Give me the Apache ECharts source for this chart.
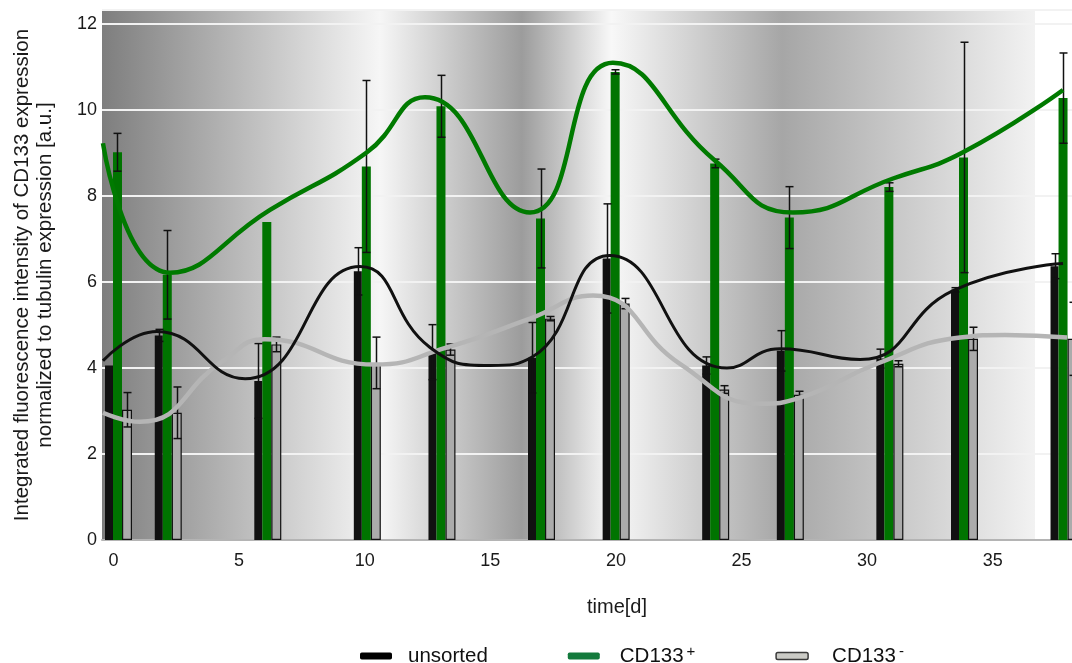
<!DOCTYPE html>
<html>
<head>
<meta charset="utf-8">
<script src="https://cdn.jsdelivr.net/npm/echarts@6/dist/echarts.min.js"></script>
<style>
html,body{margin:0;padding:0;background:#fff;}
#chart{width:1072px;height:663px;}
</style>
</head>
<body>
<div id="chart"></div>
<script>
// ---- data ----
const days = [0, 2, 6, 10, 13, 17, 20, 24, 27, 31, 34, 38];
const unsorted    = [4.06, 4.76, 3.70, 6.25, 4.37, 4.24, 6.55, 4.06, 4.40, 4.22, 5.82, 6.37];
const unsortedErr = [0, 0.14, 0.87, 0.55, 0.64, 0.82, 1.27, 0.20, 0.47, 0.22, 0.05, 0.29];
const cdPos       = [9.02, 6.17, 7.40, 8.69, 10.09, 7.48, 10.89, 8.76, 7.50, 8.21, 8.90, 10.28];
const cdPosErr    = [0.44, 1.03, 0, 2.00, 0.72, 1.15, 0.05, 0.10, 0.72, 0.10, 2.68, 1.05];
const cdNeg       = [3.03, 2.96, 4.55, 4.12, 4.43, 5.15, 5.50, 3.50, 3.38, 4.10, 4.68, 4.68];
const cdNegErr    = [0.40, 0.60, 0.17, 0.60, 0.13, 0.05, 0.12, 0.09, 0.08, 0.07, 0.27, 0.85];

// smoothed trend curves (time [d], value)
const unsortedCurve = [[-0.42,4.17],[1.73,4.85],[5.24,3.75],[9.81,6.36],[12.6,4.48],[14.99,4.06],[16.7,4.27],[19.76,6.62],[24.42,4.0],[26.53,4.45],[29.72,4.2],[33.42,5.8],[37.8,6.43]];
const cdPosCurve = [[-0.42,9.23],[2.25,6.22],[6.23,7.68],[10.09,9.02],[12.4,10.3],[16.58,7.62],[19.88,11.1],[23.94,8.83],[27.05,7.62],[31.03,8.41],[33.82,9.02],[37.8,10.47]];
const cdNegCurve = [[-0.42,2.96],[1.05,2.75],[4.36,4.17],[6.03,4.67],[10.41,4.08],[13.28,4.48],[16.58,5.15],[19.09,5.69],[22.55,4.1],[25.74,3.17],[27.33,3.31],[30.39,4.1],[33.7,4.71],[35.5,4.77],[37.96,4.71]];

const xTicks = [0, 5, 10, 15, 20, 25, 30, 35];
const seriesNames = ['unsorted', 'CD133+', 'CD133-'];
const yTitle = 'Integrated fluorescence intensity of CD133 expression\nnormalized to tubulin expression [a.u.]';
const xTitle = 'time[d]';

// ---- styling / layout ----
const barWidths = [8, 9, 10];
const total = barWidths.reduce((a, b) => a + b, 0);
const offsets = [];
{ let acc = -total / 2; for (const w of barWidths) { offsets.push(acc + w / 2); acc += w; } }

function errSeries(vals, errs, off) {
  return {
    type: 'custom', xAxisIndex: 1, z: 3,
    data: days.map((d, i) => [d, vals[i], errs[i]]),
    encode: { x: 0, y: 1 },
    renderItem: function (params, api) {
      const x = api.value(0), v = api.value(1), e = api.value(2);
      if (!e) return null;
      const c = api.coord([x, v]);
      const hi = api.coord([x, v + e])[1];
      const lo = api.coord([x, v - e])[1];
      const cx = Math.round(c[0] + off) + 0.5;
      const hw = 4;
      const st = { stroke: '#111', lineWidth: 1.5 };
      return { type: 'group', children: [
        { type: 'line', shape: { x1: cx, y1: hi, x2: cx, y2: lo }, style: st },
        { type: 'line', shape: { x1: cx - hw, y1: hi, x2: cx + hw, y2: hi }, style: st },
        { type: 'line', shape: { x1: cx - hw, y1: lo, x2: cx + hw, y2: lo }, style: st }
      ]};
    }
  };
}

const chart = echarts.init(document.getElementById('chart'));
const font = 'Liberation Sans, Arial, sans-serif';
const legendRich = { n: { fontSize: 20.5, color: '#111' }, s: { fontSize: 15, color: '#111', padding: [0, 0, 9, 3] } };
const option = {
  animation: false,
  backgroundColor: '#ffffff',
  textStyle: { fontFamily: font },
  grid: { left: 102, right: 0, top: 10, bottom: 123 },
  graphic: [{
    type: 'rect', z: -10, silent: true,
    shape: { x: 102, y: 10, width: 933, height: 530 },
    style: { fill: { type: 'linear', x: 0, y: 0, x2: 1, y2: 0, colorStops: [
      { offset: 0, color: '#7e7e7e' },
      { offset: 0.298, color: '#f6f6f6' },
      { offset: 0.45, color: '#9c9c9c' },
      { offset: 0.546, color: '#f8f8f8' },
      { offset: 0.729, color: '#a6a6a6' },
      { offset: 1, color: '#f2f2f2' }
    ] } }
  }],
  xAxis: [{
    type: 'value', min: -0.458, max: 38.157,
    axisLabel: { customValues: xTicks, fontSize: 18, color: '#1a1a1a', margin: 12 },
    axisTick: { show: false },
    splitLine: { show: false },
    axisLine: { lineStyle: { color: '#b4b4b4', width: 2 } },
    name: xTitle, nameLocation: 'middle', nameGap: 57,
    nameTextStyle: { fontSize: 20, color: '#1a1a1a', padding: [0, 0, 0, 60] }
  }, {
    type: 'value', min: -0.663, max: 38.32, show: false
  }],
  yAxis: {
    type: 'value', min: 0, max: 12.33, interval: 2,
    axisLabel: { formatter: v => (v % 2 === 0 ? String(v) : ''), fontSize: 18, color: '#1a1a1a', margin: 5 },
    axisLine: { show: false }, axisTick: { show: false },
    splitLine: { lineStyle: { color: '#f2f2f2', width: 2 } },
    name: yTitle, nameLocation: 'middle', nameGap: 45,
    nameTextStyle: { fontSize: 20.5, color: '#1a1a1a', lineHeight: 23 }
  },
  legend: {
    left: 360, top: 644, padding: 0, itemWidth: 32, itemHeight: 7, itemGap: 80,
    textStyle: { fontSize: 20.5, color: '#111', padding: [0, 0, 0, 11], rich: legendRich },
    formatter: name => name === 'unsorted' ? '{n|unsorted}' : '{n|CD133}{s|' + (name === 'CD133+' ? '+' : '-') + '}',
    data: [
      { name: seriesNames[0], icon: 'roundRect', itemStyle: { color: '#000', borderWidth: 0 } },
      { name: seriesNames[1], icon: 'roundRect', itemStyle: { color: '#137a3c', borderWidth: 0 },
        textStyle: { padding: [0, 0, 0, 15], rich: legendRich } },
      { name: seriesNames[2], icon: 'roundRect', itemStyle: { color: '#cbcbc6', borderColor: '#3a3a3a', borderWidth: 1.5 },
        textStyle: { padding: [0, 0, 0, 19], rich: legendRich } }
    ]
  },
  series: [
    { name: seriesNames[0], type: 'bar', xAxisIndex: 1, barWidth: barWidths[0], barGap: '0%', z: 2,
      itemStyle: { color: '#111' }, data: days.map((d, i) => [d, unsorted[i]]) },
    { name: seriesNames[1], type: 'bar', xAxisIndex: 1, barWidth: barWidths[1], barGap: '0%', z: 2,
      itemStyle: { color: '#007400' }, data: days.map((d, i) => [d, cdPos[i]]) },
    { name: seriesNames[2], type: 'bar', xAxisIndex: 1, barWidth: barWidths[2], barGap: '0%', z: 2,
      itemStyle: { color: '#ababab', borderColor: '#111', borderWidth: 1.2 }, data: days.map((d, i) => [d, cdNeg[i]]) },
    errSeries(unsorted, unsortedErr, offsets[0]),
    errSeries(cdPos, cdPosErr, offsets[1]),
    errSeries(cdNeg, cdNegErr, offsets[2]),
    { name: seriesNames[2], type: 'line', xAxisIndex: 0, smooth: 0.5, showSymbol: false, z: 4,
      lineStyle: { color: '#b5b5b5', width: 4.5 }, itemStyle: { color: '#b5b5b5' }, data: cdNegCurve },
    { name: seriesNames[0], type: 'line', xAxisIndex: 0, smooth: 0.5, showSymbol: false, z: 5,
      lineStyle: { color: '#111', width: 3 }, itemStyle: { color: '#111' }, data: unsortedCurve },
    { name: seriesNames[1], type: 'line', xAxisIndex: 0, smooth: 0.5, showSymbol: false, z: 5,
      lineStyle: { color: '#007a00', width: 4.5 }, itemStyle: { color: '#007a00' }, data: cdPosCurve }
  ]
};
chart.setOption(option);
</script>
</body>
</html>
